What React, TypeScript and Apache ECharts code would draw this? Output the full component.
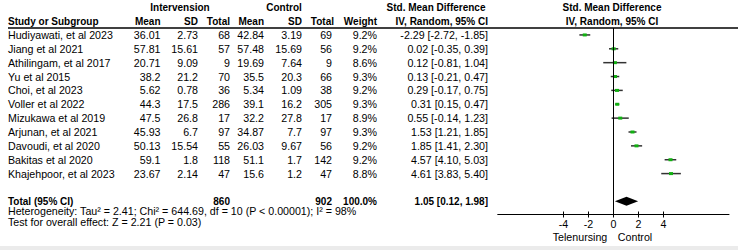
import React, { useEffect, useRef } from "react";
import * as echarts from "echarts";

const studies = [
  "Hudiyawati, et al 2023",
  "Jiang et al 2021",
  "Athilingam, et al 2017",
  "Yu et al 2015",
  "Choi, et al 2023",
  "Voller et al 2022",
  "Mizukawa et al 2019",
  "Arjunan, et al 2021",
  "Davoudi, et al 2020",
  "Bakitas et al 2020",
  "Khajehpoor, et al 2023",
];
const intMean = [36.01, 57.81, 20.71, 38.2, 5.62, 44.3, 47.5, 45.93, 50.13, 59.1, 23.67];
const intSD = [2.73, 15.61, 9.09, 21.2, 0.78, 17.5, 26.8, 6.7, 15.54, 1.8, 2.14];
const intTotal = [68, 57, 9, 70, 36, 286, 17, 97, 55, 118, 47];
const ctlMean = [42.84, 57.48, 19.69, 35.5, 5.34, 39.1, 32.2, 34.87, 26.03, 51.1, 15.6];
const ctlSD = [3.19, 15.69, 7.64, 20.3, 1.09, 16.2, 27.8, 7.7, 9.67, 1.7, 1.2];
const ctlTotal = [69, 56, 9, 66, 38, 305, 17, 97, 56, 142, 47];
const weights = [9.2, 9.2, 8.6, 9.3, 9.2, 9.3, 8.9, 9.3, 9.2, 9.2, 8.8];
const smd = [-2.29, 0.02, 0.12, 0.13, 0.29, 0.31, 0.55, 1.53, 1.85, 4.57, 4.61];
const ciLow = [-2.72, -0.35, -0.81, -0.21, -0.17, 0.15, -0.14, 1.21, 1.41, 4.1, 3.83];
const ciHigh = [-1.85, 0.39, 1.04, 0.47, 0.75, 0.47, 1.23, 1.85, 2.3, 5.03, 5.4];

const totalLabel = "Total (95% CI)";
const totalInt = 860;
const totalCtl = 902;
const totalWeight = 100.0;
const totalSmd = 1.05;
const totalLow = 0.12;
const totalHigh = 1.98;

const heterogeneityText =
  "Heterogeneity: Tau\u00B2 = 2.41; Chi\u00B2 = 644.69, df = 10 (P < 0.00001); I\u00B2 = 98%";
const overallText = "Test for overall effect: Z = 2.21 (P = 0.03)";
const tickValues = [-4, -2, 0, 2, 4];
const favoursLeft = "Telenursing";
const favoursRight = "Control";

const FAMILY = '"Liberation Sans", Arial, sans-serif';
const REG = 10.67;
const BOLD = 10;
const font = (bold: boolean) => (bold ? `bold ${BOLD}px ${FAMILY}` : `${REG}px ${FAMILY}`);

function txt(text: string, x: number, y: number, align: string, bold = false) {
  return {
    type: "text",
    x,
    y,
    style: {
      text,
      fill: "#000",
      font: font(bold),
      align,
      textAlign: align,
      verticalAlign: "middle",
      textVerticalAlign: "middle",
    },
  };
}

const ci = (m: number, l: number, h: number) => `${m.toFixed(2)} [${l.toFixed(2)}, ${h.toFixed(2)}]`;

export default function App() {
  const ref = useRef<HTMLDivElement>(null);

  useEffect(() => {
    const chart = echarts.init(ref.current!, null, { renderer: "svg" });
    const n = studies.length;
    const totalRow = n + 1;
    const rows = studies.map((_, i) => i);

    const col = {
      study: 8,
      intMean: 160.5,
      intSD: 198,
      intTotal: 230,
      ctlMean: 264,
      ctlSD: 302,
      ctlTotal: 332,
      weight: 377,
      ci: 488,
    };

    const tableSeries: any = {
      type: "custom",
      silent: true,
      clip: false,
      data: [...rows.map((i) => [0, i]), [0, totalRow]],
      encode: { x: 0, y: 1 },
      z: 5,
      renderItem: (params: any, api: any) => {
        const idx = params.dataIndex;
        const y = api.coord([0, api.value(1)])[1];
        if (idx < n) {
          return {
            type: "group",
            children: [
              txt(studies[idx], col.study, y, "left"),
              txt(String(intMean[idx]), col.intMean, y, "right"),
              txt(String(intSD[idx]), col.intSD, y, "right"),
              txt(String(intTotal[idx]), col.intTotal, y, "right"),
              txt(String(ctlMean[idx]), col.ctlMean, y, "right"),
              txt(String(ctlSD[idx]), col.ctlSD, y, "right"),
              txt(String(ctlTotal[idx]), col.ctlTotal, y, "right"),
              txt(weights[idx].toFixed(1) + "%", col.weight, y, "right"),
              txt(ci(smd[idx], ciLow[idx], ciHigh[idx]), col.ci, y, "right"),
            ],
          };
        }
        return {
          type: "group",
          children: [
            txt(totalLabel, col.study, y, "left", true),
            txt(String(totalInt), col.intTotal, y, "right", true),
            txt(String(totalCtl), col.ctlTotal, y, "right", true),
            txt(totalWeight.toFixed(1) + "%", col.weight, y, "right", true),
            txt(ci(totalSmd, totalLow, totalHigh), col.ci, y, "right", true),
          ],
        };
      },
    };

    const forestSeries: any = {
      type: "custom",
      silent: true,
      clip: false,
      data: rows.map((i) => [smd[i], i, ciLow[i], ciHigh[i]]),
      encode: { x: [0, 2, 3], y: 1 },
      z: 3,
      renderItem: (params: any, api: any) => {
        const p = api.coord([api.value(0), api.value(1)]);
        const l = api.coord([api.value(2), api.value(1)]);
        const h = api.coord([api.value(3), api.value(1)]);
        return {
          type: "group",
          children: [
            {
              type: "line",
              shape: { x1: l[0], y1: p[1], x2: h[0], y2: p[1] },
              style: { stroke: "#333", lineWidth: 1.5 },
            },
            {
              type: "rect",
              shape: { x: p[0] - 2, y: p[1] - 1.5, width: 4, height: 3 },
              style: { fill: "#11b011" },
            },
          ],
        };
      },
      markLine: {
        silent: true,
        symbol: "none",
        label: { show: false },
        lineStyle: { color: "#000", width: 1, type: "solid" },
        data: [{ xAxis: 0 }],
      },
    };

    const diamondSeries: any = {
      type: "custom",
      silent: true,
      clip: false,
      data: [[totalSmd, totalRow, totalLow, totalHigh]],
      encode: { x: [0, 2, 3], y: 1 },
      z: 4,
      renderItem: (params: any, api: any) => {
        const p = api.coord([api.value(0), api.value(1)]);
        const l = api.coord([api.value(2), api.value(1)]);
        const h = api.coord([api.value(3), api.value(1)]);
        const hh = 4.5;
        return {
          type: "polygon",
          shape: {
            points: [
              [l[0], p[1]],
              [p[0], p[1] - hh],
              [h[0], p[1]],
              [p[0], p[1] + hh],
            ],
          },
          style: { fill: "#000" },
        };
      },
    };

    const option: any = {
      animation: false,
      backgroundColor: "#fff",
      grid: {
        left: 497.75,
        top: 28,
        width: 231.25,
        height: 186.5,
        containLabel: false,
        outerBoundsMode: "none",
      },
      xAxis: [
        {
          type: "value",
          min: -9.25,
          max: 9.25,
          position: "bottom",
          axisLine: { show: true, onZero: false, lineStyle: { color: "#000", width: 1 } },
          axisTick: { show: true, customValues: tickValues, length: 3, lineStyle: { color: "#000" } },
          axisLabel: {
            show: true,
            customValues: tickValues,
            margin: 4,
            color: "#000",
            fontSize: REG,
            fontFamily: FAMILY,
          },
          splitLine: { show: false },
        },
        {
          type: "value",
          min: -9.25,
          max: 9.25,
          position: "bottom",
          offset: 0,
          axisLine: { show: false, onZero: false },
          axisTick: { show: true, inside: true, customValues: tickValues, length: 3, lineStyle: { color: "#000" } },
          axisLabel: { show: false },
          splitLine: { show: false },
        },
      ],
      yAxis: {
        type: "value",
        inverse: true,
        min: -0.5,
        max: 12.95,
        show: false,
      },
      graphic: [
        { type: "rect", shape: { x: 0, y: 246, width: 738, height: 4 }, style: { fill: "#ebebeb" } },
        { type: "line", shape: { x1: 8, y1: 28, x2: 738, y2: 28 }, style: { stroke: "#000", lineWidth: 1.5 } },
        txt("Intervension", 180, 7, "center", true),
        txt("Control", 284, 7, "center", true),
        txt("Std. Mean Difference", 436, 7, "center", true),
        txt("Std. Mean Difference", 612, 7, "center", true),
        txt("Study or Subgroup", 8, 21.5, "left", true),
        txt("Mean", 160.5, 21.5, "right", true),
        txt("SD", 198, 21.5, "right", true),
        txt("Total", 230, 21.5, "right", true),
        txt("Mean", 264, 21.5, "right", true),
        txt("SD", 302, 21.5, "right", true),
        txt("Total", 334, 21.5, "right", true),
        txt("Weight", 377, 21.5, "right", true),
        txt("IV, Random, 95% CI", 488, 21.5, "right", true),
        txt("IV, Random, 95% CI", 612, 21.5, "center", true),
        txt(heterogeneityText, 8, 211.3, "left"),
        txt(overallText, 8, 222.3, "left"),
        txt(favoursLeft, 580, 237, "center"),
        txt(favoursRight, 635, 237, "center"),
      ],
      series: [forestSeries, diamondSeries, tableSeries],
    };

    chart.setOption(option);
    return () => chart.dispose();
  }, []);

  return (
    <div
      ref={ref}
      style={{ position: "fixed", left: 0, top: 0, width: 738, height: 250, background: "#fff" }}
    />
  );
}
